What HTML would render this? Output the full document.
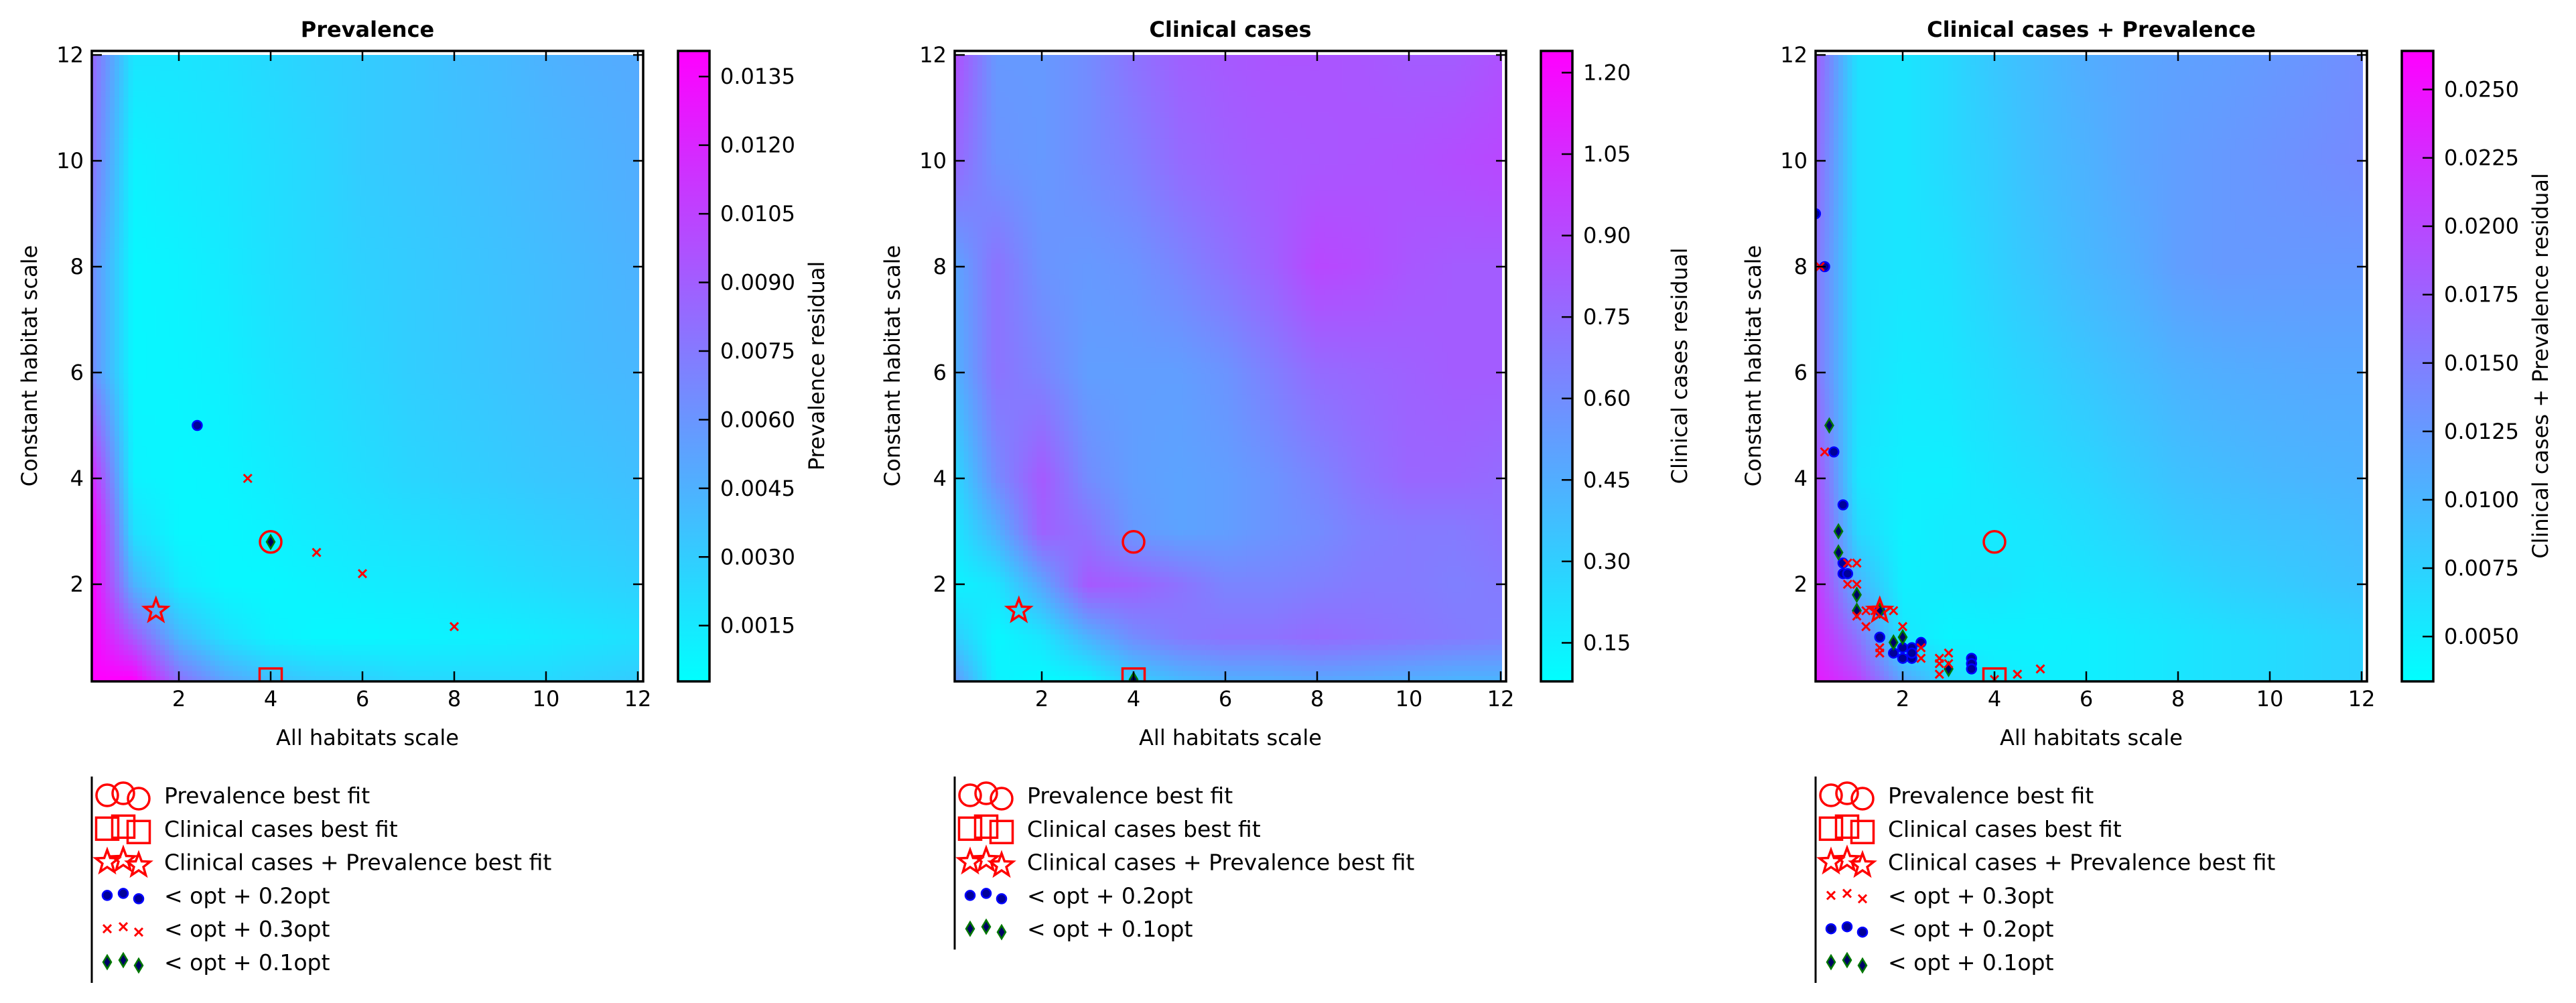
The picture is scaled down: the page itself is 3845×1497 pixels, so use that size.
<!DOCTYPE html>
<html><head><meta charset="utf-8">
<style>
html,body{margin:0;padding:0;background:#fff;}
#root{position:relative;width:3845px;height:1497px;overflow:hidden;background:#fff;}
canvas{position:absolute;image-rendering:pixelated;}
svg{position:absolute;left:0;top:0;}
text{font-family:"DejaVu Sans","Liberation Sans",sans-serif;}
</style></head>
<body>
<div id="root">
<canvas id="c0"></canvas>
<canvas id="c1"></canvas>
<canvas id="c2"></canvas>
<svg id="s" width="3845" height="1497"></svg>
</div>
<script>
// ---- data ----
const gridX = [0.1,1,2,3,4,5,6,7,8,9,10,11,12];
const gridY = [12,10,8,6,4,3,2,1,0.2];
const heatPrev = [
[.6,.1,.1,.12,.15,.18,.2,.22,.25,.27,.3,.32,.33],
[.55,.05,.08,.1,.13,.16,.2,.22,.24,.26,.28,.3,.32],
[.45,.03,.05,.08,.12,.15,.18,.2,.22,.24,.26,.28,.3],
[.45,.03,.04,.06,.1,.13,.16,.19,.21,.23,.25,.27,.28],
[.85,.05,.03,.04,.07,.1,.13,.16,.18,.2,.22,.23,.25],
[1,.12,.03,.03,.05,.08,.1,.12,.14,.16,.18,.2,.22],
[1,.3,.08,.03,.03,.05,.07,.08,.1,.12,.14,.16,.18],
[1,.65,.28,.12,.05,.03,.03,.04,.05,.06,.08,.1,.12],
[1,1,.55,.35,.25,.2,.18,.15,.15,.15,.15,.18,.2]];
const heatClin = [
[.7,.4,.4,.45,.55,.62,.65,.67,.67,.66,.64,.64,.68],
[.6,.42,.4,.45,.5,.58,.62,.65,.66,.67,.68,.7,.72],
[.35,.55,.42,.4,.42,.48,.55,.62,.72,.7,.66,.64,.64],
[.3,.55,.48,.38,.38,.38,.42,.5,.58,.6,.62,.64,.64],
[.15,.45,.65,.45,.38,.36,.38,.42,.48,.55,.6,.6,.58],
[.1,.3,.62,.55,.4,.36,.38,.42,.45,.5,.52,.52,.55],
[.05,.1,.35,.65,.62,.55,.48,.48,.5,.52,.52,.5,.52],
[.2,.03,.1,.3,.45,.52,.55,.55,.58,.56,.54,.52,.5],
[.4,.05,.02,.05,.2,.28,.32,.33,.35,.34,.32,.3,.3]];
const heatComb = [
[.65,.12,.1,.15,.22,.27,.32,.35,.37,.38,.4,.42,.45],
[.6,.12,.1,.15,.2,.26,.3,.35,.38,.4,.42,.44,.46],
[.55,.12,.1,.12,.18,.23,.28,.32,.38,.4,.4,.4,.4],
[.55,.12,.08,.1,.14,.18,.22,.26,.3,.32,.33,.34,.34],
[.7,.1,.06,.06,.1,.13,.16,.2,.24,.26,.28,.29,.3],
[.75,.15,.05,.08,.08,.1,.13,.16,.2,.22,.24,.25,.27],
[.8,.3,.06,.08,.1,.08,.1,.12,.15,.18,.2,.22,.24],
[.85,.55,.1,.04,.05,.05,.06,.08,.1,.12,.14,.16,.18],
[.9,.75,.35,.15,.08,.06,.06,.08,.1,.12,.14,.16,.18]];

const titles = ["Prevalence","Clinical cases","Clinical cases + Prevalence"];
const cbLabels = ["Prevalence residual","Clinical cases residual","Clinical cases + Prevalence residual"];
const cbRanges = [[0.00028,0.01406],[0.079,1.24],[0.00336,0.02641]];
const cbTicks0 = [0.0015,0.0030,0.0045,0.0060,0.0075,0.0090,0.0105,0.0120,0.0135];
const cbTicks1 = [0.15,0.30,0.45,0.60,0.75,0.90,1.05,1.20];
const cbTicks2 = [0.0050,0.0075,0.0100,0.0125,0.0150,0.0175,0.0200,0.0225,0.0250];
const axisTicks = [2,4,6,8,10,12];

const prevBest = [[4,2.8],[4,2.8],[4,2.8]];
const clinBest = [[4,0.2],[4,0.2],[4,0.2]];
const combBest = [[1.5,1.5],[1.5,1.5],[1.5,1.5]];
const dots0X = [2.4]; const dots0Y = [5.0];
const cross0X = [3.5,5,6,8]; const cross0Y = [4,2.6,2.2,1.2];
const diam0X = [4]; const diam0Y = [2.8];
const dots1X = []; const dots1Y = [];
const cross1X = []; const cross1Y = [];
const diam1X = [4]; const diam1Y = [0.2];
const dots2X = [0.1,0.3,0.5,0.7,0.7,0.7,0.8,1.5,1.5,1.8,2,2,2.2,2.2,2.4,3.5,3.5,3.5,2.2];
const dots2Y = [9,8,4.5,3.5,2.4,2.2,2.2,1.5,1.0,0.7,0.8,0.6,0.8,0.6,0.9,0.6,0.5,0.4,0.7];
const diam2X = [0.4,0.6,0.6,1,1,1.5,1.8,2,3];
const diam2Y = [5,3,2.6,1.8,1.5,1.5,0.9,1.0,0.4];
const cross2X = [0.2,0.3,0.8,1,0.8,1,1,1.2,1.2,1.5,1.5,1.4,1.8,2,2.4,2.4,2.8,2.8,2.8,3,3,4,4.5,5];
const cross2Y = [8,4.5,2.4,2.4,2.0,2.0,1.4,1.5,1.2,0.8,0.7,1.5,1.5,1.2,0.8,0.6,0.6,0.3,0.5,0.7,0.5,0.2,0.3,0.4];

const legendOrders = [["circle","square","star","dot","cross","diamond"],["circle","square","star","dot","diamond"],["circle","square","star","cross","dot","diamond"]];
const legendTexts = {circle:"Prevalence best fit",square:"Clinical cases best fit",star:"Clinical cases + Prevalence best fit",dot:"< opt + 0.2opt",cross:"< opt + 0.3opt",diamond:"< opt + 0.1opt"};

// ---- layout ----
const DX = [0,1288,2573];
const X0 = 130, KX = 68.5, Y0 = 1030, KY = 79;
const AL = 137, AR = 960, AT = 76, AB = 1017;
const CBL = 1012, CBR = 1059;
const NS = "http://www.w3.org/2000/svg";
const svg = document.getElementById('s');
function mk(tag, attrs, parent){const e=document.createElementNS(NS,tag);for(const k in attrs)e.setAttribute(k,attrs[k]);(parent||svg).appendChild(e);return e;}
function cool(t){t=Math.max(0,Math.min(1,t));return 'rgb('+Math.round(255*t)+','+Math.round(255*(1-t))+',255)';}

const defs = mk('defs',{});
for(let p=0;p<3;p++){const cp=mk('clipPath',{id:'clip'+p},defs);mk('rect',{x:AL+DX[p],y:AT,width:AR-AL,height:AB-AT},cp);}
const grad = mk('linearGradient',{id:'cbg',x1:0,y1:1,x2:0,y2:0},defs);
mk('stop',{offset:0,'stop-color':'#00ffff'},grad);mk('stop',{offset:1,'stop-color':'#ff00ff'},grad);

function interp(grid, x, y){
  let i=0; while(i<gridX.length-2 && x>gridX[i+1]) i++;
  let tx=(x-gridX[i])/(gridX[i+1]-gridX[i]); tx=Math.max(0,Math.min(1,tx));
  let j=0; while(j<gridY.length-2 && y<gridY[j+1]) j++;
  let ty=(y-gridY[j])/(gridY[j+1]-gridY[j]); ty=Math.max(0,Math.min(1,ty));
  const a=grid[j][i]*(1-tx)+grid[j][i+1]*tx, b=grid[j+1][i]*(1-tx)+grid[j+1][i+1]*tx;
  return a*(1-ty)+b*ty;
}
const heats=[heatPrev,heatClin,heatComb];
const imgX0=0.1, imgX1=12.03, imgY0=0.165, imgY1=12.0;
for(let p=0;p<3;p++){
  const c=document.getElementById('c'+p); const NX=120, NY=120;
  c.width=NX;c.height=NY;const ctx=c.getContext('2d');
  for(let a=0;a<NX;a++)for(let b=0;b<NY;b++){
    const x=imgX0+(a+0.5)/NX*(imgX1-imgX0), y=imgY1-(b+0.5)/NY*(imgY1-imgY0);
    ctx.fillStyle=cool(interp(heats[p],x,y));ctx.fillRect(a,b,1,1);
  }
  const l=X0+DX[p]+imgX0*KX, r=X0+DX[p]+imgX1*KX, t=Y0-imgY1*KY, bt=Y0-imgY0*KY;
  c.style.left=l+'px';c.style.top=t+'px';c.style.width=(r-l)+'px';c.style.height=(bt-t)+'px';
}

function circle(g,cx,cy){const e=mk('circle',{cx,cy,r:16,fill:'none',stroke:'#ff0000','stroke-width':3.5},g);}
function square(g,cx,cy){const e=mk('rect',{x:cx-16.5,y:cy-16.5,width:33,height:33,fill:'none',stroke:'#ff0000','stroke-width':3.5},g);}
function star(g,cx,cy){let d='';for(let k=0;k<10;k++){const r=k%2?7.5:18;const a=-Math.PI/2+k*Math.PI/5;d+=(k?'L':'M')+(cx+r*Math.cos(a)).toFixed(1)+','+(cy+r*Math.sin(a)).toFixed(1);}const e=mk('path',{d:d+'Z',fill:'none',stroke:'#ff0000','stroke-width':3.5,'stroke-linejoin':'miter'},g);}
function dot(g,cx,cy,r){const e=mk('circle',{cx,cy,r:r||7,fill:'#000099',stroke:'#0000ff','stroke-width':2.5},g);}
function cross(g,cx,cy){const e=mk('path',{d:`M${cx-6},${cy-6}L${cx+6},${cy+6}M${cx-6},${cy+6}L${cx+6},${cy-6}`,stroke:'#ff0000','stroke-width':3,fill:'none'},g);}
function diamond(g,cx,cy,s){s=s||1;const e=mk('path',{d:`M${cx},${cy-10*s}L${cx+6*s},${cy}L${cx},${cy+10*s}L${cx-6*s},${cy}Z`,fill:'#000066',stroke:'#007700','stroke-width':2.5},g);}
const drawers={circle,square,star,dot,cross,diamond};

const dotsX=[dots0X,dots1X,dots2X],dotsY=[dots0Y,dots1Y,dots2Y];
const crossX=[cross0X,cross1X,cross2X],crossY=[cross0Y,cross1Y,cross2Y];
const diamX=[diam0X,diam1X,diam2X],diamY=[diam0Y,diam1Y,diam2Y];
const cbTicks=[cbTicks0,cbTicks1,cbTicks2];
const cbFmt=[4,2,4];

for(let p=0;p<3;p++){
  const dx=DX[p];
  const sx=v=>X0+dx+v*KX, sy=v=>Y0-v*KY;
  const panel=mk('g',{});
  
  
  const tt=mk('text',{x:(AL+AR)/2+dx,y:55,'text-anchor':'middle','font-size':32,'font-weight':'bold'},panel);tt.textContent=titles[p];
  
  const mg=mk('g',{'clip-path':`url(#clip${p})`},panel);
  
  for(let i=0;i<dotsX[p].length;i++)dot(mg,sx(dotsX[p][i]),sy(dotsY[p][i]));
  for(let i=0;i<diamX[p].length;i++)diamond(mg,sx(diamX[p][i]),sy(diamY[p][i]));
  for(let i=0;i<crossX[p].length;i++)cross(mg,sx(crossX[p][i]),sy(crossY[p][i]));
  circle(mg,sx(prevBest[p][0]),sy(prevBest[p][1]));
  square(mg,sx(clinBest[p][0]),sy(clinBest[p][1]));
  star(mg,sx(combBest[p][0]),sy(combBest[p][1]));
  const fr=mk('rect',{x:AL+dx,y:AT,width:AR-AL,height:AB-AT,fill:'none',stroke:'#000','stroke-width':3.5},panel);
  
  for(const v of axisTicks){
    const x=sx(v);
    mk('line',{x1:x,y1:AB,x2:x,y2:AB-15,stroke:'#000','stroke-width':2.5},panel);
    mk('line',{x1:x,y1:AT,x2:x,y2:AT+15,stroke:'#000','stroke-width':2.5},panel);
    const tl=mk('text',{x:x,y:1054,'text-anchor':'middle','font-size':32},panel);tl.textContent=v;
    
    const y=sy(v);
    mk('line',{x1:AL+dx,y1:y,x2:AL+dx+15,y2:y,stroke:'#000','stroke-width':2.5},panel);
    mk('line',{x1:AR+dx,y1:y,x2:AR+dx-15,y2:y,stroke:'#000','stroke-width':2.5},panel);
    const yl=mk('text',{x:AL+dx-12,y:y+11,'text-anchor':'end','font-size':32},panel);yl.textContent=v;
    
  }
  const xt=mk('text',{x:(AL+AR)/2+dx,y:1112,'text-anchor':'middle','font-size':32},panel);xt.textContent='All habitats scale';
  
  const yt=mk('text',{x:0,y:0,'text-anchor':'middle','font-size':32,transform:`translate(${55+dx},546) rotate(-90)`},panel);yt.textContent='Constant habitat scale';
  
  const cb=mk('rect',{x:CBL+dx,y:AT,width:CBR-CBL,height:AB-AT,fill:'url(#cbg)',stroke:'#000','stroke-width':3.5},panel);
  
  const [lo,hi]=cbRanges[p];
  for(const v of cbTicks[p]){
    const y=AB-(v-lo)/(hi-lo)*(AB-AT);
    mk('line',{x1:CBR+dx,y1:y,x2:CBR+dx-16,y2:y,stroke:'#000','stroke-width':2.5},panel);
    const cl=mk('text',{x:1075+dx,y:y+11,'font-size':32},panel);cl.textContent=v.toFixed(cbFmt[p]);
    
  }
  const cbt=mk('text',{x:0,y:0,'text-anchor':'middle','font-size':32,transform:`translate(${1230+dx},546) rotate(-90)`},panel);cbt.textContent=cbLabels[p];
  
  const lg=mk('g',{},panel);
  
  const order=legendOrders[p];
  const rowY=k=>1188+k*49.8;
  mk('line',{x1:137+dx,y1:1159,x2:137+dx,y2:rowY(order.length-1)+30,stroke:'#000','stroke-width':3},lg);
  order.forEach((m,k)=>{
    const y=rowY(k);
    const ent=mk('g',{},lg);
    
    
    const offs=[-1,-4,4];
    [160,184,207].forEach((x,q)=>{
      if(m==='dot')dot(ent,x+dx,y+offs[q],7);
      else if(m==='diamond')diamond(ent,x+dx,y+offs[q],1);
      else drawers[m](ent,x+dx,y+offs[q]);
    });
    const lt=mk('text',{x:245+dx,y:y+11,'font-size':33},ent);lt.textContent=legendTexts[m];
  });
}
</script>
</body></html>
